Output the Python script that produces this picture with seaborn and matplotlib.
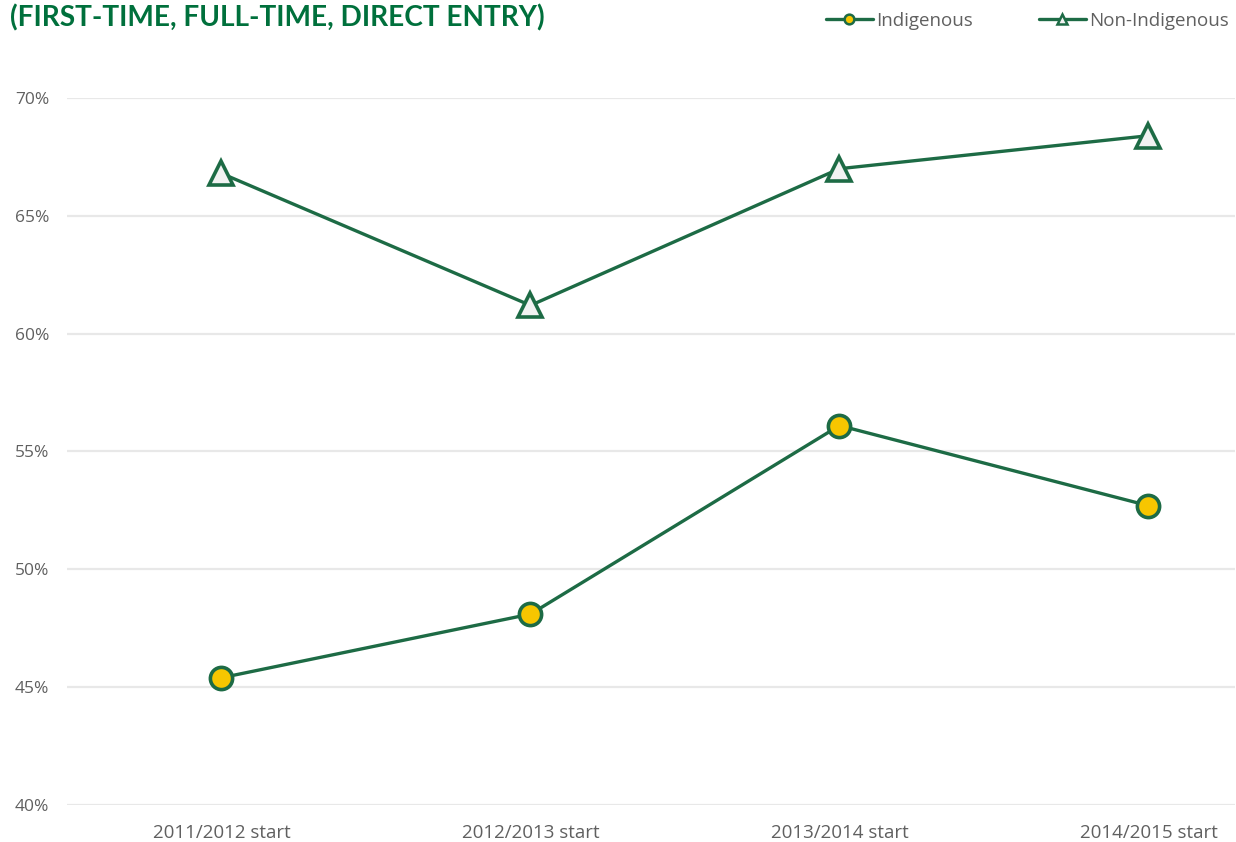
import matplotlib
matplotlib.use("Agg")
import matplotlib.pyplot as plt
import seaborn as sns
import pandas as pd
from matplotlib.lines import Line2D
from matplotlib.ticker import FuncFormatter, MultipleLocator

categories = ["2011/2012 start", "2012/2013 start", "2013/2014 start", "2014/2015 start"]
indigenous = [45.4, 48.1, 56.1, 52.7]
non_indigenous = [66.8, 61.2, 67.0, 68.4]
title = "(FIRST-TIME, FULL-TIME, DIRECT ENTRY)"

sns.set_theme(style="white")
plt.rcParams["font.family"] = ["Open Sans", "DejaVu Sans"]

GREEN = "#1d6b45"
TITLE_GREEN = "#00703c"
YELLOW = "#f7c600"
GREY = "#606060"

fig = plt.figure(figsize=(12.36, 8.42), dpi=100)
ax = fig.add_axes([67/1236, 37/842, (1235-67)/1236, (805-98)/842])

df_i = pd.DataFrame({"year": categories, "value": indigenous})
df_n = pd.DataFrame({"year": categories, "value": non_indigenous})

sns.lineplot(data=df_n, x="year", y="value", ax=ax, color=GREEN, linewidth=2.4,
             marker="^", markersize=17, markerfacecolor="#f2f2f2",
             markeredgecolor=GREEN, markeredgewidth=2.6, zorder=3)
sns.lineplot(data=df_i, x="year", y="value", ax=ax, color=GREEN, linewidth=2.4,
             marker="o", markersize=16, markerfacecolor=YELLOW,
             markeredgecolor=GREEN, markeredgewidth=2.6, zorder=3)

ax.set_ylim(40, 70)
ax.set_xlim(-0.5, 3.28)
ax.yaxis.set_major_locator(MultipleLocator(5))
ax.yaxis.set_major_formatter(FuncFormatter(lambda v, p: f"{v:.0f}%"))
ax.grid(axis="y", color="#e8e8e8", linewidth=1.6)
ax.set_axisbelow(True)
for s in ax.spines.values():
    s.set_visible(False)
ax.set_xlabel("")
ax.set_ylabel("")
ax.tick_params(axis="y", labelsize=12.5, colors=GREY, pad=-2, length=0)
ax.tick_params(axis="x", labelsize=13.5, colors=GREY, pad=14, length=0)
for lbl in ax.get_yticklabels():
    lbl.set_horizontalalignment("left")
    lbl.set_x(-0.047)

fig.text(10/1236, 1 - 18/842, title, fontsize=20.2, fontweight="bold",
         color=TITLE_GREEN, va="center", ha="left", family=["Lato", "DejaVu Sans"])

handles = [
    Line2D([], [], color=GREEN, linewidth=2.4, marker="o", markersize=7,
           markerfacecolor=YELLOW, markeredgecolor=GREEN, markeredgewidth=1.8),
    Line2D([], [], color=GREEN, linewidth=2.4, marker="^", markersize=7,
           markerfacecolor="#f2f2f2", markeredgecolor=GREEN, markeredgewidth=1.8),
]
fig.legend(handles, ["Indigenous", "Non-Indigenous"], loc="center right",
           bbox_to_anchor=(1.008, 1 - 21/842), ncol=2, frameon=False,
           fontsize=13.5, labelcolor=GREY, handlelength=2.5, handletextpad=0.2,
           columnspacing=3.5)

fig.savefig("out.png", dpi=100)
